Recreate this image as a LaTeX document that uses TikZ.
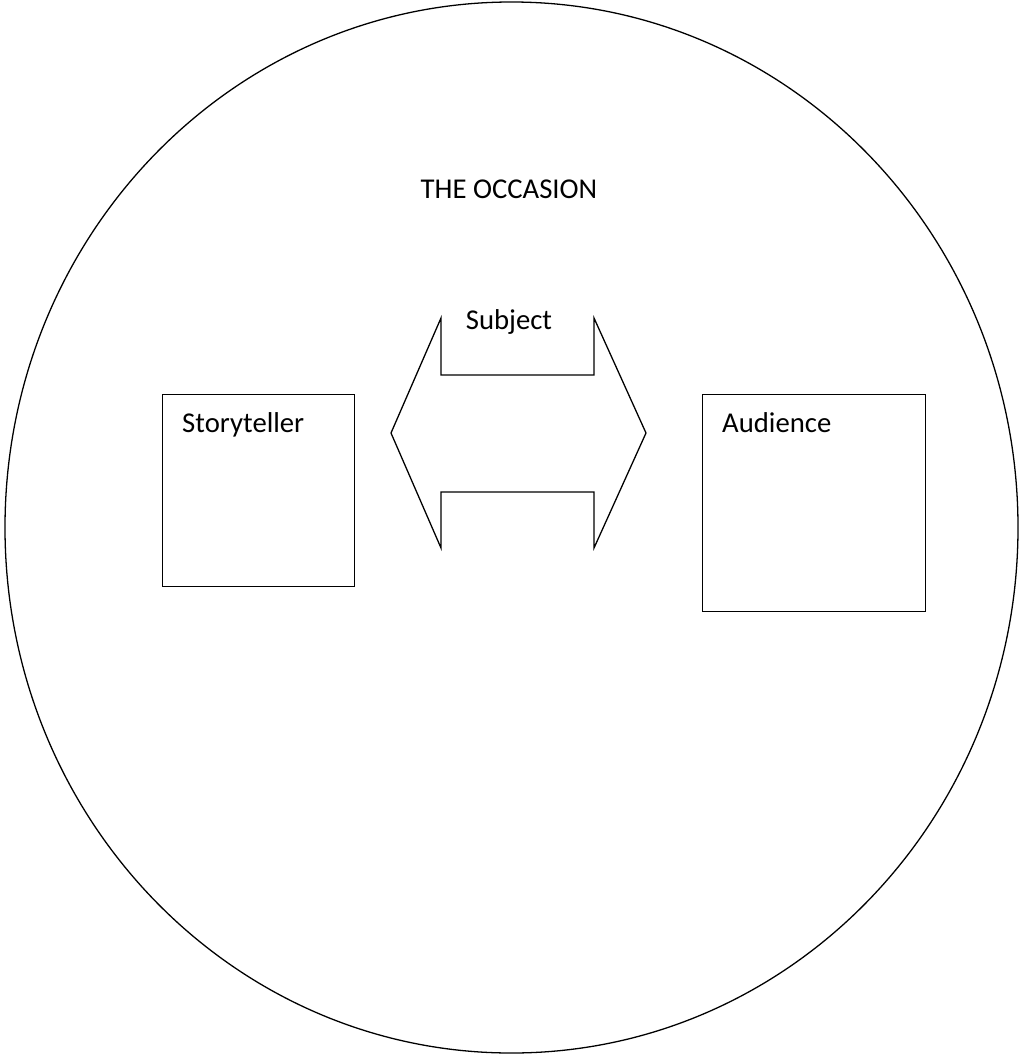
\documentclass[tikz,border=0pt]{standalone}
\usepackage{fontspec}
\setmainfont{Carlito}
\usetikzlibrary{positioning,calc}
\tikzset{
  framebox/.style={draw=black, line width=1.1pt, fill=white, inner sep=0pt},
  boxlabel/.style={font=\fontsize{24.5}{29}\selectfont, inner sep=0pt, anchor=base west},
  titletext/.style={font=\fontsize{24.5}{29}\selectfont, inner sep=0pt, anchor=base},
  outline/.style={draw=black, line width=1.1pt}
}
\begin{document}
\begin{tikzpicture}[x=0.03cm, y=-0.03cm]
      \useasboundingbox (0,0) rectangle (1021,1057);
      % the occasion
      \draw[outline] (511.5,527.5) ellipse [x radius=506.5, y radius=525.5];
      \node[titletext] (occasion) at (509,198) {THE OCCASION};
      % the two parties
      \node[framebox, minimum width=192*0.03cm, minimum height=192*0.03cm, anchor=north west] (storyteller) at (162,394) {};
      \node[framebox, minimum width=223*0.03cm, minimum height=217*0.03cm, anchor=north west] (audience) at (702,394) {};
      \node[boxlabel] (storytellerlbl) at ($(storyteller.north west)+(20,38)$) {Storyteller};
      \node[boxlabel] (audiencelbl) at ($(audience.north west)+(20,38)$) {Audience};
      % the subject between them
      \draw[outline, line join=miter] (391,433) -- (441,318) -- (441,375) -- (594,375) -- (594,318)
        -- (646,433) -- (594,548) -- (594,492) -- (441,492) -- (441,548) -- cycle;
      \node[titletext] (subject) at (509,329) {Subject};
\end{tikzpicture}
\end{document}
